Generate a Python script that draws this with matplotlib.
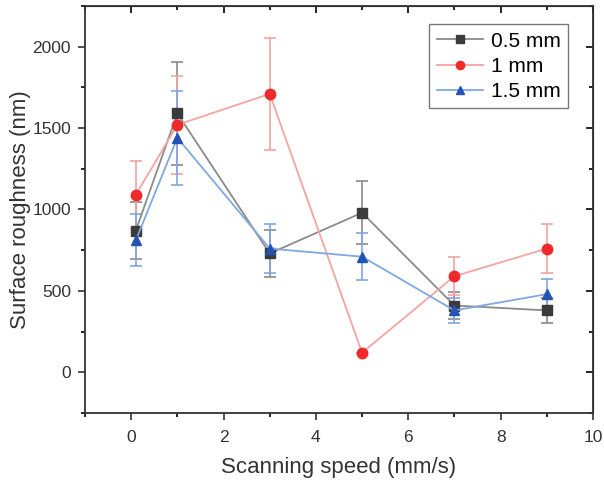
import matplotlib
matplotlib.use("Agg")
import matplotlib.pyplot as plt
from matplotlib.ticker import MultipleLocator
from matplotlib.lines import Line2D

plt.rcParams['font.family'] = ['Liberation Sans', 'DejaVu Sans']

speed = [0.1, 1, 3, 5, 7, 9]
labels = ["0.5 mm", "1 mm", "1.5 mm"]
r05 = [870, 1590, 730, 980, 410, 380]
e05 = [175, 315, 145, 195, 85, 75]
r10 = [1090, 1520, 1710, 120, 590, 760]
e10 = [210, 300, 345, 0, 118, 153]
r15 = [810, 1440, 760, 710, 380, 480]
e15 = [160, 290, 150, 145, 75, 95]

series = [
    (r05, e05, 's', '#3b3b3b', '#8a8a8a', 7),
    (r10, e10, 'o', '#ee2a2a', '#f5a3a3', 7.5),
    (r15, e15, '^', '#2354b5', '#7fa8e2', 7.5),
]

fig = plt.figure(figsize=(6.04, 4.82), dpi=100)
ax = fig.add_axes([0.1407, 0.1432, 0.8411, 0.8444])

handles = []
for (vals, errs, mk, mc, lc, ms), lab in zip(series, labels):
    ax.errorbar(speed, vals, yerr=errs, fmt='-', color=lc, ecolor=lc,
                elinewidth=1.2, capsize=4, capthick=1.2, linewidth=1.3,
                marker=mk, markersize=ms, markerfacecolor=mc,
                markeredgecolor=mc)
    handles.append(Line2D([], [], color=lc, linewidth=1.3, marker=mk,
                          markersize=ms * 0.8, markerfacecolor=mc,
                          markeredgecolor=mc, label=lab))

ax.set_xlim(-1, 10)
ax.set_ylim(-250, 2250)
ax.xaxis.set_major_locator(MultipleLocator(2))
ax.xaxis.set_minor_locator(MultipleLocator(1))
ax.yaxis.set_major_locator(MultipleLocator(500))
ax.yaxis.set_minor_locator(MultipleLocator(250))

ax.tick_params(axis='both', which='major', direction='out', length=5, width=1.2,
               labelsize=12.5, colors='#333333', pad=5)
ax.tick_params(axis='x', which='major', pad=7)
ax.tick_params(axis='both', which='minor', direction='out', length=3, width=1.2)
axt = ax.secondary_xaxis('top')
axt.xaxis.set_major_locator(MultipleLocator(2))
axt.xaxis.set_minor_locator(MultipleLocator(1))
axt.tick_params(which='major', direction='in', length=5, width=1.2, labeltop=False)
axt.tick_params(which='minor', direction='in', length=3, width=1.2)
axr = ax.secondary_yaxis('right')
axr.yaxis.set_major_locator(MultipleLocator(500))
axr.yaxis.set_minor_locator(MultipleLocator(250))
axr.tick_params(which='major', direction='in', length=5, width=1.2, labelright=False)
axr.tick_params(which='minor', direction='in', length=3, width=1.2)

for sp in ax.spines.values():
    sp.set_linewidth(1.3)
    sp.set_color('#333333')

ax.set_xlabel("Scanning speed (mm/s)", fontsize=16, color='#333333', labelpad=9)
ax.set_ylabel("Surface roughness (nm)", fontsize=16, color='#333333', labelpad=1)

leg = ax.legend(handles=handles, loc='upper right', bbox_to_anchor=(0.951, 0.955),
                fontsize=15, fancybox=False, edgecolor='#777777', framealpha=1,
                handlelength=2.2, borderpad=0.35, labelspacing=0.3,
                handletextpad=0.4, borderaxespad=0)
leg.get_frame().set_linewidth(1.0)

fig.savefig("out.png", dpi=100)
